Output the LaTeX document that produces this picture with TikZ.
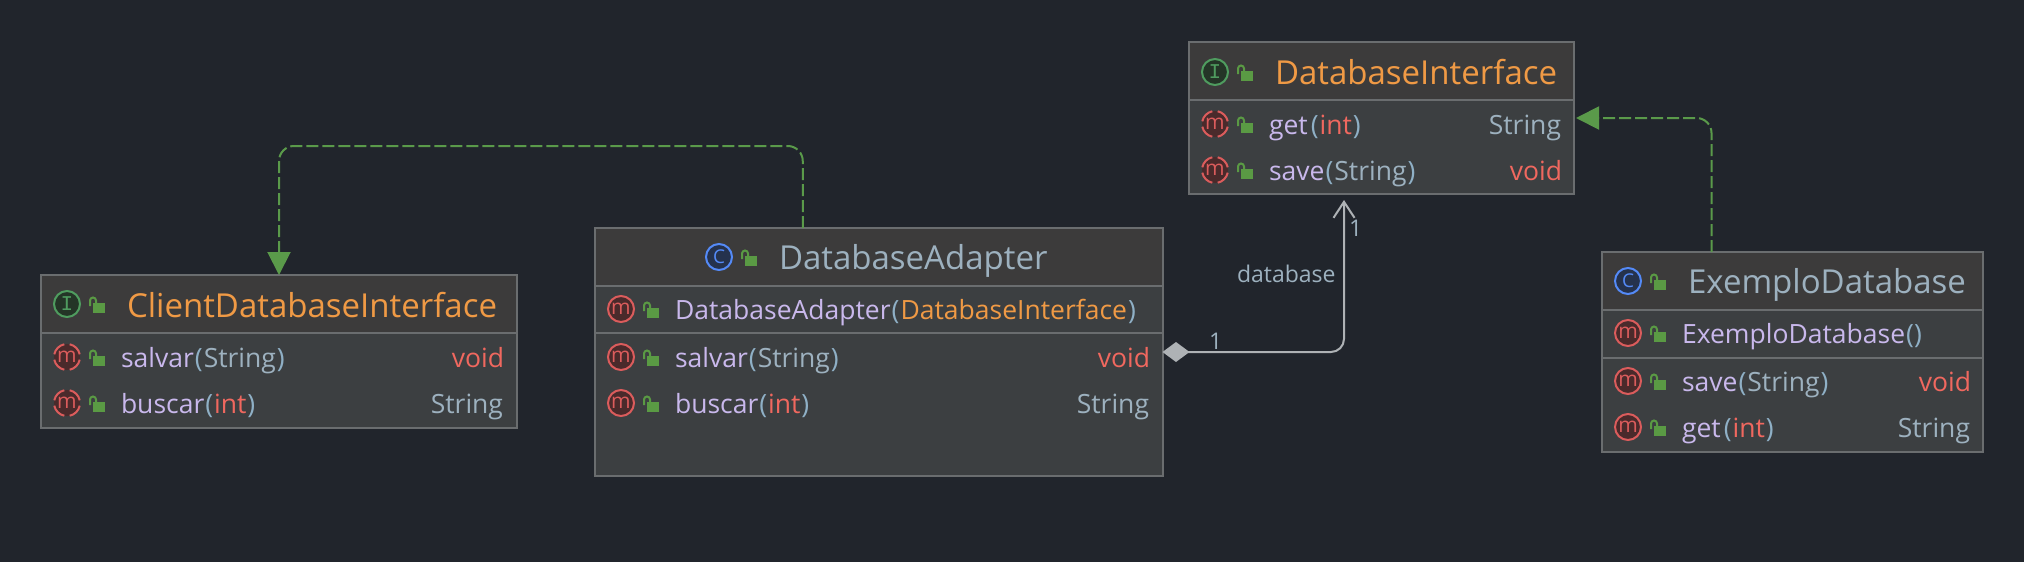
\documentclass[tikz,border=0pt]{standalone}
\usepackage{fontspec}
\setmainfont{Open Sans}
\newfontfamily\iconmono{Liberation Mono}
\usetikzlibrary{arrows.meta,calc}
\definecolor{bgc}{HTML}{21252C}
\definecolor{headc}{HTML}{3C3B3B}
\definecolor{bodyc}{HTML}{3C3F41}
\definecolor{edgec}{HTML}{6A6D6F}
\definecolor{nmc}{HTML}{C9B8EC}
\definecolor{pac}{HTML}{8FB0C6}
\definecolor{tyc}{HTML}{9DB1BF}
\definecolor{redc}{HTML}{F0685F}
\definecolor{orc}{HTML}{F09A45}
\definecolor{mring}{HTML}{DB5C5C}
\definecolor{mfill}{HTML}{4A2A2B}
\definecolor{iring}{HTML}{4F9C5F}
\definecolor{ifill}{HTML}{243527}
\definecolor{cring}{HTML}{548AF7}
\definecolor{cfill}{HTML}{25324D}
\definecolor{lockc}{HTML}{5A9A44}
\definecolor{dashc}{HTML}{5A9A4A}
\definecolor{linkc}{HTML}{AEB2B5}
\newcommand\titlefont{\fontsize{33}{36}\selectfont}
\newcommand\rowfont{\fontsize{26.5}{30}\selectfont}
\newcommand\lblfont{\fontsize{23}{26}\selectfont}
\newcommand\nm[1]{\textcolor{nmc}{#1}}
\newcommand\lp{\kern1pt\textcolor{pac}{(}\kern1pt}
\newcommand\rp{\kern1pt\textcolor{pac}{)}\kern1pt}
\newcommand\ty[1]{\textcolor{tyc}{#1}}
\newcommand\rd[1]{\textcolor{redc}{#1}}
\newcommand\orng[1]{\textcolor{orc}{#1}}
\tikzset{
  x=1pt,y=1pt,
  umlbox/.style={draw=edgec,fill=bodyc,line width=2pt,inner sep=0pt,outer sep=0pt},
  txt/.style={inner sep=0pt,outer sep=0pt,anchor=base west},
  rtxt/.style={inner sep=0pt,outer sep=0pt,anchor=base east},
  sepline/.style={draw=edgec,line width=2pt},
  implink/.style={draw=dashc,line width=2pt,dash pattern=on 12pt off 4pt,rounded corners=15pt,-{Triangle[length=23pt,width=23pt,fill=dashc]}},
  complink/.style={draw=linkc,line width=2pt,rounded corners=13pt,{Diamond[length=27pt,width=20pt,fill=linkc]}-{Straight Barb[length=16pt,width=21pt,line width=2pt]}},
  lbl/.style={inner sep=0pt,outer sep=0pt,text=tyc,font=\lblfont}
}
% name x1 y1 x2 y2 header-separator-y
\newcommand\umlbox[6]{%
  \node[umlbox,minimum width={#4-#2},minimum height={#5-#3}] (#1) at ({(#2+#4)/2},{-(#3+#5)/2}) {};
  \fill[headc] ({#2+1},{-#3-1}) rectangle ({#4-1},{-#6});
  \draw[sepline] ({#2+1},{-#6}) -- ({#4-1},{-#6});
}
\newcommand\lockicon[2]{%
  \begin{scope}[shift={(#1+26,-#2+1)}]
    \fill[lockc] (0,0) rectangle (12,-10);
    \draw[lockc,line width=2pt] (-3,-3) -- (-3,2.5) arc[start angle=180,end angle=0,radius=3] -- (3,0);
  \end{scope}}
% full ring method icon: name cx cy
\newcommand\micon[3]{%
  \node[circle,draw=mring,fill=mfill,line width=2pt,minimum size=26pt,inner sep=0pt,outer sep=0pt,text=mring,font=\fontsize{21}{21}\selectfont] (#1) at (#2,-#3) {\raisebox{1pt}{m}};
  \lockicon{#2}{#3}}
% abstract method icon: broken ring
\newcommand\aicon[3]{%
  \node[circle,draw=none,fill=mfill,minimum size=26pt,inner sep=0pt,outer sep=0pt,text=mring,font=\fontsize{21}{21}\selectfont] (#1) at (#2,-#3) {\raisebox{1pt}{m}};
  \foreach \a in {0,90,180,270} \draw[mring,line width=2pt] ($(#2,-#3)+(\a+12:13)$) arc[start angle=\a+12,end angle=\a+78,radius=13];
  \lockicon{#2}{#3}}
% kind icon: name cx cy ring fill letter
\newcommand\kicon[6]{%
  \node[circle,draw=#4,fill=#5,line width=2pt,minimum size=26pt,inner sep=0pt,outer sep=0pt,text=#4] (#1) at (#2,-#3) {#6};
  \lockicon{#2}{#3}}
\newcommand\letterC{\fontsize{19}{19}\selectfont C}
\newcommand\letterI{\iconmono\fontsize{21}{21}\selectfont I}
\begin{document}
\begin{tikzpicture}
\useasboundingbox (0,0) rectangle (2024,-562);
\fill[bgc] (0,0) rectangle (2024,-562);

% ClientDatabaseInterface
\umlbox{client}{41}{275}{517}{428}{333}
\kicon{clienticon}{67}{304}{iring}{ifill}{\letterI}
\node[txt,text=orc,font=\titlefont] (clienttitle) at (127,-317) {ClientDatabaseInterface};
\aicon{cm1}{67}{357}
\node[txt,font=\rowfont] (ct1) at (121,-367) {\nm{salvar}\lp\ty{String}\rp};
\node[rtxt,font=\rowfont,text=redc] (cr1) at (504,-367) {void};
\aicon{cm2}{67}{403}
\node[txt,font=\rowfont] (ct2) at (121,-413) {\nm{buscar}\lp\rd{int}\rp};
\node[rtxt,font=\rowfont,text=tyc] (cr2) at (503,-413) {String};

% DatabaseAdapter
\umlbox{adapter}{595}{228}{1162.5}{476}{286}
\draw[sepline] (596,-333) -- (1161.5,-333);
\kicon{adaptericon}{719}{257}{cring}{cfill}{\letterC}
\node[txt,text=tyc,font=\titlefont] (adaptertitle) at (779,-269) {DatabaseAdapter};
\micon{am0}{621}{309}
\node[txt,font=\rowfont] (at0) at (675,-319) {\nm{DatabaseAdapter}\lp\orng{DatabaseInterface}\rp};
\micon{am1}{621}{357}
\node[txt,font=\rowfont] (at1) at (675,-367) {\nm{salvar}\lp\ty{String}\rp};
\node[rtxt,font=\rowfont,text=redc] (ar1) at (1150,-367) {void};
\micon{am2}{621}{403}
\node[txt,font=\rowfont] (at2) at (675,-413) {\nm{buscar}\lp\rd{int}\rp};
\node[rtxt,font=\rowfont,text=tyc] (ar2) at (1149,-413) {String};

% DatabaseInterface
\umlbox{dbi}{1189}{42}{1574}{194}{100}
\kicon{dbiicon}{1215}{72}{iring}{ifill}{\letterI}
\node[txt,text=orc,font=\titlefont] (dbititle) at (1275,-84) {DatabaseInterface};
\aicon{dm1}{1215}{124}
\node[txt,font=\rowfont] (dt1) at (1269,-134) {\nm{get}\kern2pt\lp\rd{int}\rp};
\node[rtxt,font=\rowfont,text=tyc] (dr1) at (1561,-134) {String};
\aicon{dm2}{1215}{170}
\node[txt,font=\rowfont] (dt2) at (1269,-180) {\nm{save}\lp\ty{String}\rp};
\node[rtxt,font=\rowfont,text=redc] (dr2) at (1562,-180) {void};

% ExemploDatabase
\umlbox{exemplo}{1602}{252}{1983}{452}{310}
\draw[sepline] (1603,-358) -- (1982,-358);
\kicon{exicon}{1628}{281}{cring}{cfill}{\letterC}
\node[txt,text=tyc,font=\titlefont] (extitle) at (1688,-293) {ExemploDatabase};
\micon{em0}{1628}{333}
\node[txt,font=\rowfont] (et0) at (1682,-343) {\nm{ExemploDatabase}\lp\kern-2pt\rp};
\micon{em1}{1628}{381}
\node[txt,font=\rowfont] (et1) at (1682,-391) {\nm{save}\lp\ty{String}\rp};
\node[rtxt,font=\rowfont,text=redc] (er1) at (1971,-391) {void};
\micon{em2}{1628}{427}
\node[txt,font=\rowfont] (et2) at (1682,-437) {\nm{get}\kern2pt\lp\rd{int}\rp};
\node[rtxt,font=\rowfont,text=tyc] (er2) at (1970,-437) {String};

% Connectors
\coordinate (adtop) at ($(adapter.north)+(-76,0)$);
\coordinate (dashy) at (0,-146);
\draw[implink] (adtop) -- (adtop |- dashy) -- (client.north |- dashy) -- (client.north);
\coordinate (dbidash) at ($(dbi.east)+(2,0)$);
\coordinate (extop) at ($(exemplo.north)+(-81,0)$);
\draw[implink] (extop) |- (dbidash);
\coordinate (dbibottom) at (1344,-200);
\coordinate (compy) at (0,-352);
\draw[complink] (adapter.east |- compy) -| (dbibottom);
\node[lbl,anchor=base west] (m1) at (1349,-236) {1};
\node[lbl,anchor=base west] (m2) at (1209,-349) {1};
\node[lbl,anchor=base west] (role) at (1237,-282) {database};
\end{tikzpicture}
\end{document}
